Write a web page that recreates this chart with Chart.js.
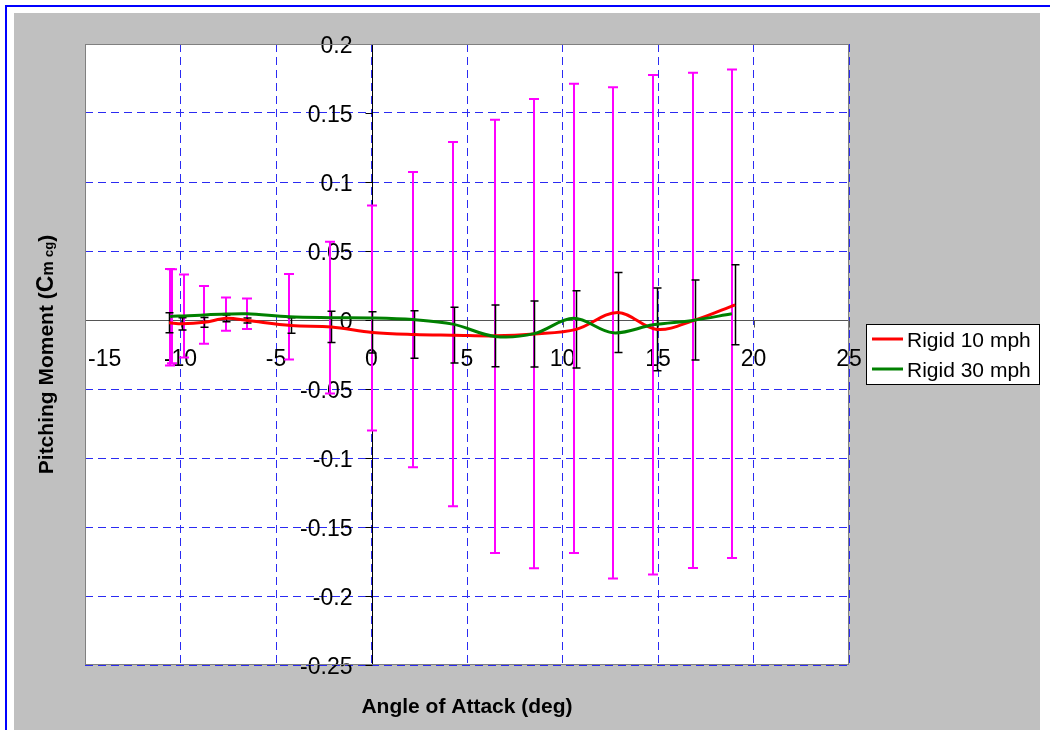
<!DOCTYPE html>
<html>
<head>
<meta charset="utf-8">
<title>Pitching Moment vs Angle of Attack</title>
<script src="https://cdn.jsdelivr.net/npm/chart.js@4.4.1/dist/chart.umd.min.js"></script>
<style>
  html, body { margin: 0; padding: 0; background: #ffffff; overflow: hidden; }
  canvas { display: block; }
</style>
</head>
<body>
<canvas id="cm" width="1050" height="730"></canvas>
<script>
// Axis ticks
const angleTicks = [-15, -10, -5, 0, 5, 10, 15, 20, 25];
const angleTickLabels = ['-15', '-10', '-5', '0', '5', '10', '15', '20', '25'];
const momentTicks = [-0.25, -0.2, -0.15, -0.1, -0.05, 0, 0.05, 0.1, 0.15, 0.2];
const momentTickLabels = ['-0.25', '-0.2', '-0.15', '-0.1', '-0.05', '0', '0.05', '0.1', '0.15', '0.2'];

// Series names
const seriesNames = ['Rigid 10 mph', 'Rigid 30 mph'];

// Rigid 10 mph: angle (deg), Cm cg, error-bar half width
const rigid10Alpha = [-10.6, -9.9, -8.75, -7.6, -6.5, -4.2, -2.1, 0.05, 2.25, 4.33, 6.47, 8.51, 10.72, 12.88, 14.93, 16.95, 19.04];
const rigid10Cm    = [-0.002, -0.0028, -0.0017, 0.0012, -0.0004, -0.004, -0.005, -0.009, -0.0105, -0.011, -0.0115, -0.0102, -0.0068, 0.0055, -0.0068, 0.0, 0.011];
const rigid10Err   = [0.0073, 0.0045, 0.0036, 0.0024, 0.0018, 0.0056, 0.0113, 0.015, 0.0172, 0.0202, 0.0224, 0.0239, 0.028, 0.029, 0.030, 0.029, 0.029];

// Rigid 30 mph: angle (deg), Cm cg, error-bar half width
const rigid30Alpha = [-10.54, -10.44, -9.83, -8.75, -7.61, -6.53, -4.3, -2.16, 0.0, 2.16, 4.26, 6.46, 8.51, 10.58, 12.65, 14.74, 16.81, 18.87];
const rigid30Cm    = [0.002, 0.0027, 0.0029, 0.0037, 0.0043, 0.0045, 0.0023, 0.0017, 0.0015, 0.0003, -0.003, -0.0119, -0.0099, 0.0012, -0.0093, -0.0035, -0.0003, 0.0045];
const rigid30Err   = [0.035, 0.034, 0.030, 0.021, 0.012, 0.011, 0.031, 0.055, 0.0815, 0.107, 0.132, 0.157, 0.170, 0.170, 0.178, 0.181, 0.1795, 0.177];

const FONT = '"Liberation Sans", Arial, Helvetica, sans-serif';
const RED = '#ff0000';
const GREEN = '#008000';
const GRID_BLUE = '#2b2bf2';

function toPoints(xs, ys) {
  return xs.map((x, i) => ({ x: x, y: ys[i] }));
}

function drawErrorBars(ctx, xs, ys, errs, sx, sy, color, width, cap) {
  ctx.save();
  ctx.strokeStyle = color;
  ctx.lineWidth = width;
  ctx.beginPath();
  for (let i = 0; i < xs.length; i++) {
    const px = Math.round(sx.getPixelForValue(xs[i])) + (width % 2 ? 0.5 : 0);
    const top = sy.getPixelForValue(ys[i] + errs[i]);
    const bot = sy.getPixelForValue(ys[i] - errs[i]);
    ctx.moveTo(px, top);
    ctx.lineTo(px, bot);
    ctx.moveTo(px - cap, top);
    ctx.lineTo(px + cap, top);
    ctx.moveTo(px - cap, bot);
    ctx.lineTo(px + cap, bot);
  }
  ctx.stroke();
  ctx.restore();
}

const chartDecor = {
  id: 'chartDecor',
  beforeDraw(chart) {
    const { ctx, chartArea: a } = chart;
    ctx.save();
    ctx.fillStyle = '#ffffff';
    ctx.fillRect(0, 0, chart.width, chart.height);
    // outer frame
    ctx.fillStyle = '#0000ff';
    ctx.fillRect(5, 5, chart.width - 5, 2);
    ctx.fillRect(5, 5, 2, chart.height - 5);
    // chart background
    ctx.fillStyle = '#c0c0c0';
    ctx.fillRect(14, 13, 1026, chart.height - 13);
    // plot background
    ctx.fillStyle = '#ffffff';
    ctx.fillRect(a.left, a.top, a.right - a.left, a.bottom - a.top);
    ctx.restore();
  },
  beforeDatasetsDraw(chart) {
    const { ctx, chartArea: a } = chart;
    const sx = chart.scales.x, sy = chart.scales.y;
    const x0 = Math.round(sx.getPixelForValue(0)) + 0.5;
    const y0 = Math.round(sy.getPixelForValue(0)) + 0.5;

    ctx.save();
    // horizontal axis at Cm = 0
    ctx.strokeStyle = '#555555';
    ctx.lineWidth = 1;
    ctx.beginPath();
    ctx.moveTo(a.left, y0);
    ctx.lineTo(a.right, y0);
    angleTicks.forEach(v => {
      const px = Math.round(sx.getPixelForValue(v)) + 0.5;
      ctx.moveTo(px, y0);
      ctx.lineTo(px, y0 + 7);
    });
    ctx.stroke();

    // vertical axis at angle = 0
    ctx.strokeStyle = '#000000';
    ctx.beginPath();
    ctx.moveTo(x0, a.top);
    ctx.lineTo(x0, a.bottom);
    momentTicks.forEach(v => {
      const py = Math.round(sy.getPixelForValue(v)) + 0.5;
      ctx.moveTo(x0 - 7, py);
      ctx.lineTo(x0, py);
    });
    ctx.stroke();

    // tick labels
    ctx.fillStyle = '#000000';
    ctx.font = '23px ' + FONT;
    ctx.textBaseline = 'alphabetic';
    ctx.textAlign = 'right';
    momentTicks.forEach((v, i) => {
      const py = sy.getPixelForValue(v);
      ctx.fillText(momentTickLabels[i], x0 - 20, py + 9);
    });
    ctx.textAlign = 'left';
    angleTicks.forEach((v, i) => {
      const px = sx.getPixelForValue(v);
      const w = ctx.measureText(angleTickLabels[i]).width;
      let left = px - w / 2;
      if (left < a.left + 3) left = a.left + 3;
      ctx.fillText(angleTickLabels[i], left, y0 + 45);
    });
    ctx.restore();

    // error bars
    drawErrorBars(ctx, rigid30Alpha, rigid30Cm, rigid30Err, sx, sy, '#ff00ff', 2, 5);
    drawErrorBars(ctx, rigid10Alpha, rigid10Cm, rigid10Err, sx, sy, '#000000', 1.5, 4);
  },
  afterDraw(chart) {
    const { ctx, chartArea: a } = chart;
    ctx.save();
    // plot frame
    ctx.strokeStyle = '#808080';
    ctx.lineWidth = 1;
    ctx.strokeRect(a.left + 0.5, a.top + 0.5, a.right - a.left - 1, a.bottom - a.top - 1);

    // legend
    const lx = 866.5, ly = 324.5, lw = 173, lh = 60;
    ctx.fillStyle = '#ffffff';
    ctx.fillRect(lx, ly, lw, lh);
    ctx.strokeStyle = '#000000';
    ctx.strokeRect(lx, ly, lw, lh);
    const colors = [RED, GREEN];
    ctx.font = '21px ' + FONT;
    ctx.textAlign = 'left';
    ctx.textBaseline = 'alphabetic';
    seriesNames.forEach((name, i) => {
      const yy = 339 + i * 30;
      ctx.strokeStyle = colors[i];
      ctx.lineWidth = 3;
      ctx.beginPath();
      ctx.moveTo(872, yy);
      ctx.lineTo(903, yy);
      ctx.stroke();
      ctx.fillStyle = '#000000';
      ctx.fillText(name, 907, yy + 8);
    });

    // x axis title
    ctx.fillStyle = '#000000';
    ctx.font = 'bold 21px ' + FONT;
    ctx.textAlign = 'center';
    ctx.fillText('Angle of Attack (deg)', (a.left + a.right) / 2, 713);

    // y axis title with subscripted coefficient
    const parts = [
      { t: 'Pitching Moment (', f: 'bold 21px ' + FONT },
      { t: 'C', f: 'bold 23px ' + FONT },
      { t: 'm ', f: 'bold 16px ' + FONT },
      { t: 'cg', f: 'bold 13px ' + FONT },
      { t: ')', f: 'bold 21px ' + FONT }
    ];
    let total = 0;
    parts.forEach(p => { ctx.font = p.f; p.w = ctx.measureText(p.t).width; total += p.w; });
    ctx.translate(53, (a.top + a.bottom) / 2);
    ctx.rotate(-Math.PI / 2);
    ctx.textAlign = 'left';
    let cx = -total / 2;
    parts.forEach(p => { ctx.font = p.f; ctx.fillText(p.t, cx, 0); cx += p.w; });
    ctx.restore();
  }
};

new Chart(document.getElementById('cm'), {
  type: 'scatter',
  data: {
    datasets: [
      {
        label: seriesNames[0],
        data: toPoints(rigid10Alpha, rigid10Cm),
        showLine: true,
        borderColor: RED,
        backgroundColor: RED,
        borderWidth: 3,
        pointRadius: 0,
        pointHoverRadius: 0,
        tension: 0.35,
        order: 1
      },
      {
        label: seriesNames[1],
        data: toPoints(rigid30Alpha, rigid30Cm),
        showLine: true,
        borderColor: GREEN,
        backgroundColor: GREEN,
        borderWidth: 3,
        pointRadius: 0,
        pointHoverRadius: 0,
        tension: 0.35,
        order: 0
      }
    ]
  },
  options: {
    responsive: false,
    animation: false,
    devicePixelRatio: 1,
    events: [],
    layout: { padding: { left: 85, top: 44, right: 201, bottom: 65 } },
    plugins: {
      legend: { display: false },
      tooltip: { enabled: false },
      title: { display: false }
    },
    scales: {
      x: {
        type: 'linear',
        min: -15,
        max: 25,
        position: { y: 0 },
        afterBuildTicks: s => { s.ticks = angleTicks.map(v => ({ value: v })); },
        ticks: { display: false },
        grid: { color: GRID_BLUE, lineWidth: 1, drawTicks: false },
        border: { display: false, dash: [8, 5] }
      },
      y: {
        type: 'linear',
        min: -0.25,
        max: 0.2,
        position: { x: 0 },
        afterBuildTicks: s => { s.ticks = momentTicks.map(v => ({ value: v })); },
        ticks: { display: false },
        grid: { color: GRID_BLUE, lineWidth: 1, drawTicks: false },
        border: { display: false, dash: [8, 5] }
      }
    }
  },
  plugins: [chartDecor]
});
</script>
</body>
</html>
